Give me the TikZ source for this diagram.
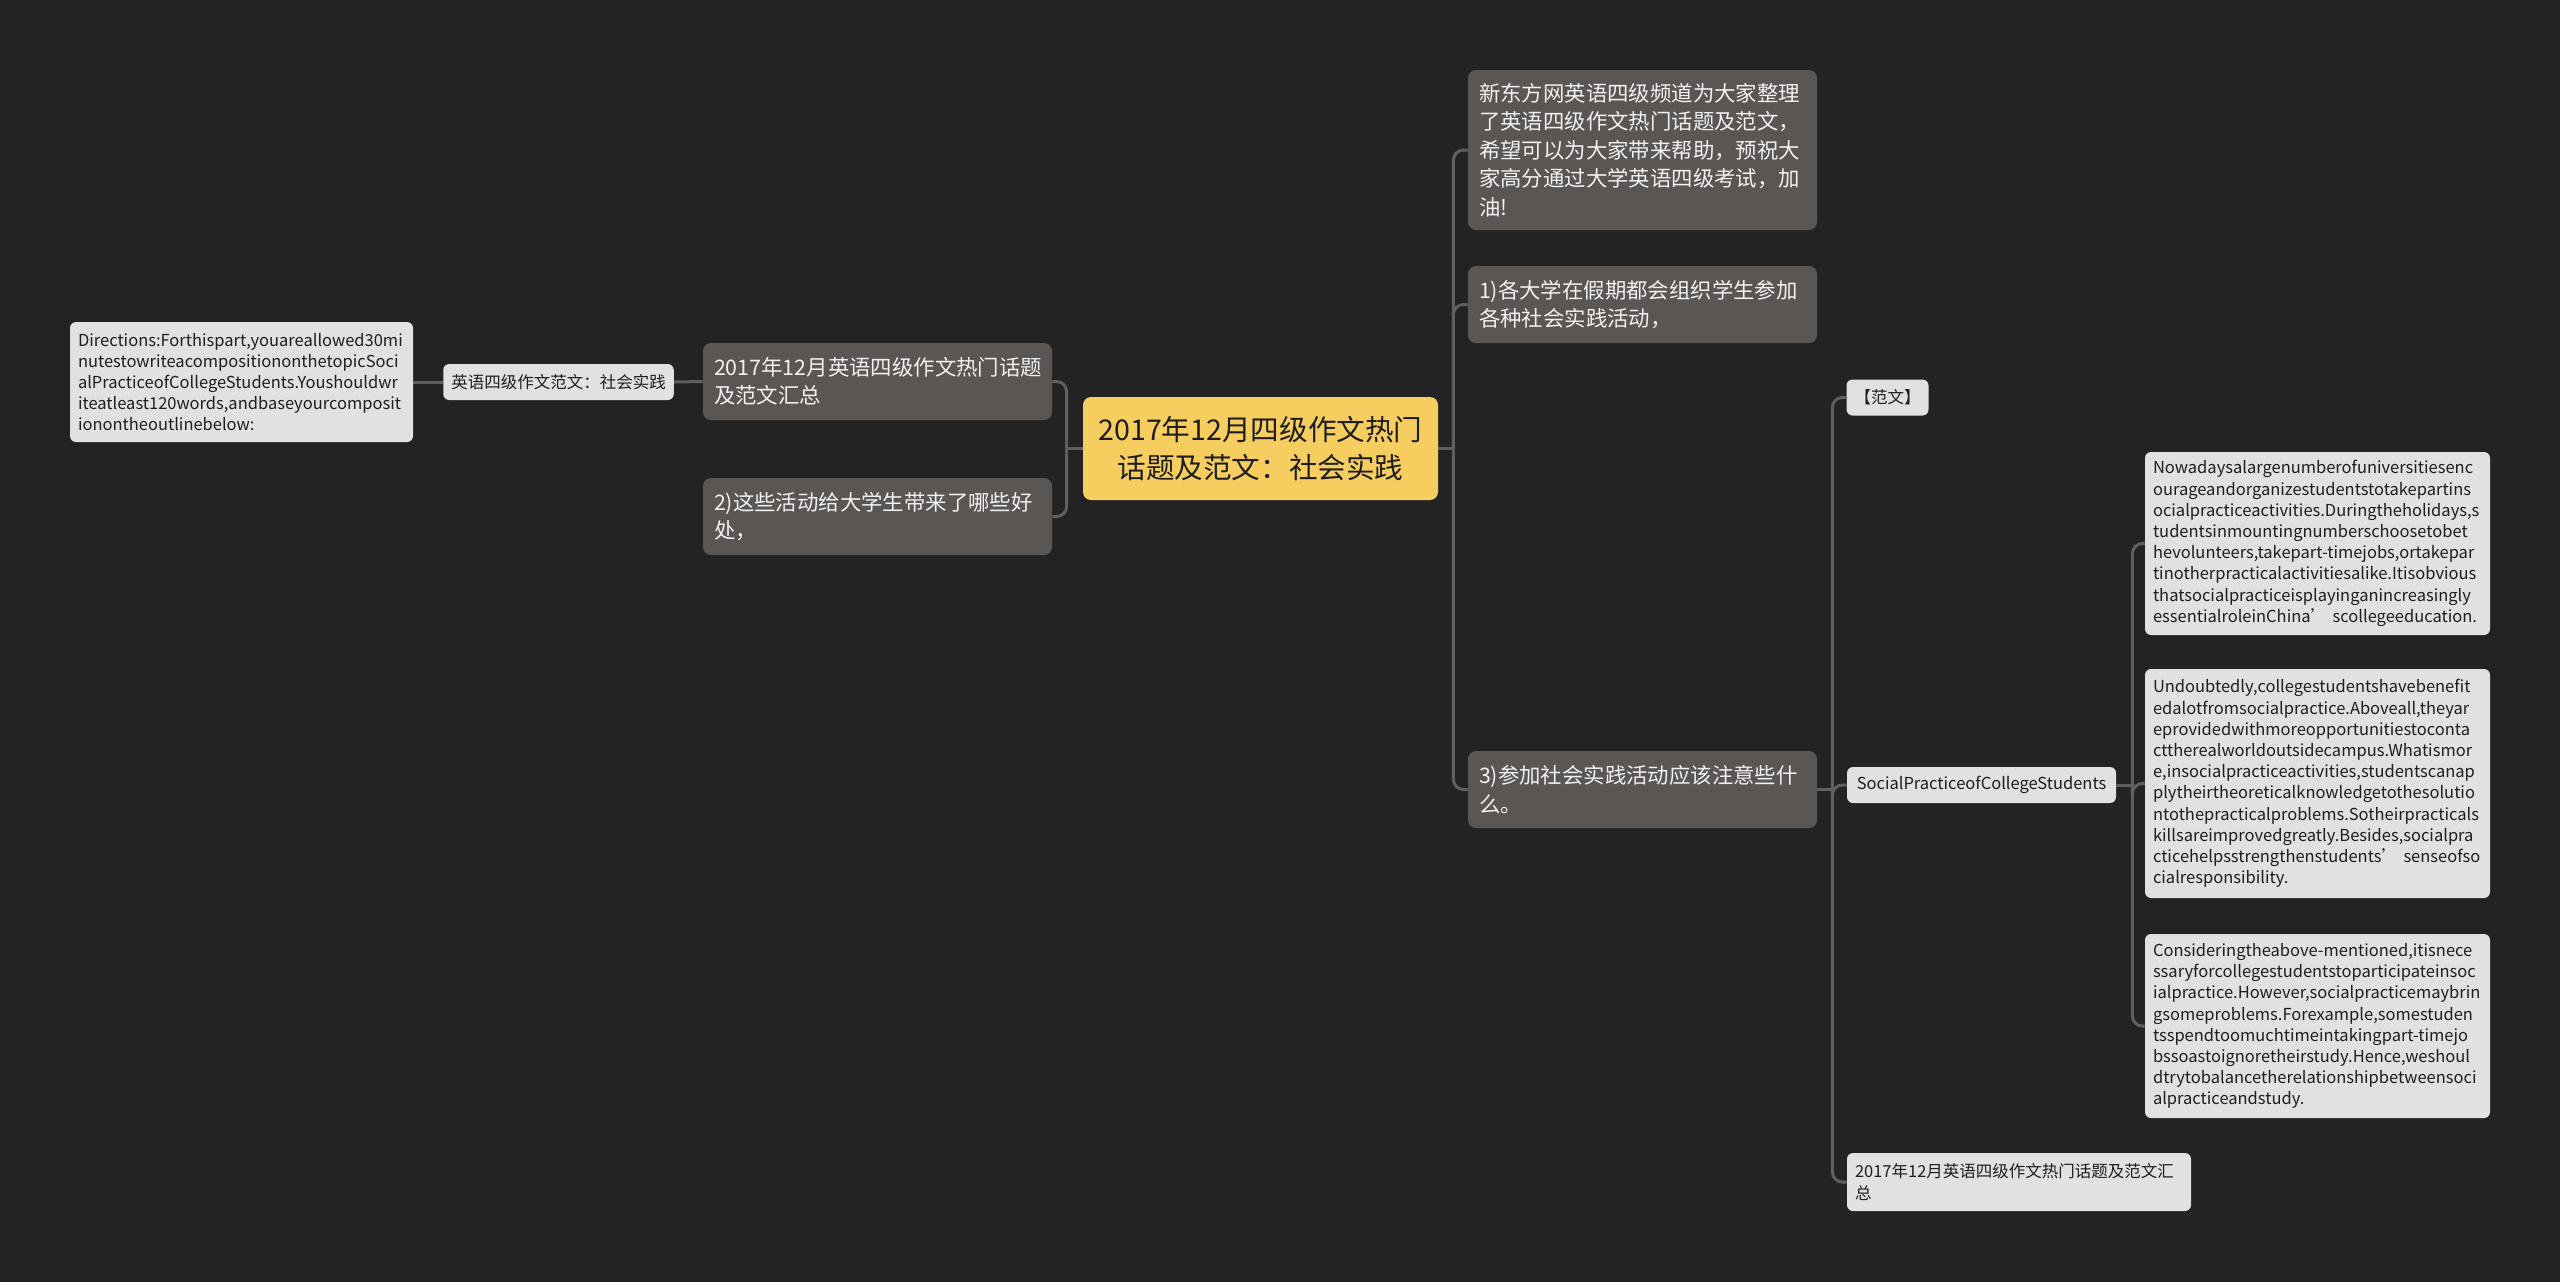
\documentclass[tikz,border=0pt]{standalone}
\usepackage{fontspec}
\setmainfont{Noto Sans CJK SC}
\usepackage{tikz}
\usetikzlibrary{positioning,calc}
\definecolor{canvas}{HTML}{232323}
\definecolor{slate}{HTML}{5A5654}
\definecolor{paper}{HTML}{E1E1E1}
\definecolor{gold}{HTML}{F6CD5F}
\definecolor{wire}{HTML}{5F5F5F}
\definecolor{ink}{HTML}{1E1E1E}
\hyphenpenalty=10000

\begin{document}
\begin{tikzpicture}[x=0.5pt,y=-0.5pt,
  link/.style={draw=wire,line width=1.5pt,rounded corners=5pt},
  root/.style={fill=gold,rounded corners=4pt,text=ink,align=center,inner sep=0pt,
    minimum width=177.5pt,minimum height=51.5pt,font=\fontsize{14.3}{18.8}\selectfont},
  topic/.style={fill=slate,rounded corners=4pt,text=white!92!slate,align=left,
    inner xsep=5.5pt,inner ysep=0pt,text width=163.5pt,minimum height=38.5pt,
    font=\fontsize{10.7}{14.2}\selectfont},
  leaf/.style={fill=paper,rounded corners=3pt,text=ink,align=left,
    inner xsep=4pt,inner ysep=0pt,font=\fontsize{8.25}{10.6}\selectfont},
  tag/.style={leaf,align=center,minimum height=18pt}]
\useasboundingbox (0,0) rectangle (2560,1281);
\fill[canvas] (-4,-4) rectangle (2564,1285);
% centre
\node[root] (root) at (1260.5,448.5) {2017年12月四级作文热门\\话题及范文：社会实践};
% left branch
\node[topic] (summary) at (877.5,381.5) {2017年12月英语四级作文热门话题\\及范文汇总};
\node[topic] (benefit) at (877.5,516.5) {2)这些活动给大学生带来了哪些好\\处，};
\node[tag,minimum width=114.5pt] (sample) at (558.5,382) {英语四级作文范文：社会实践};
\node[leaf,text width=163.5pt,minimum height=60pt] (dirs) at (241.5,382) {Directions:Forthispart,youareallowed30mi\\nutestowriteacompositiononthetopicSoci\\alPracticeofCollegeStudents.Youshouldwr\\iteatleast120words,andbaseyourcomposit\\ionontheoutlinebelow:};
% right branch
\node[topic,minimum height=80pt] (intro) at (1642.5,150) {新东方网英语四级频道为大家整理\\了英语四级作文热门话题及范文，\\希望可以为大家带来帮助，预祝大\\家高分通过大学英语四级考试，加\\油!};
\node[topic] (q1) at (1642.5,304.5) {1)各大学在假期都会组织学生参加\\各种社会实践活动，};
\node[topic] (q3) at (1642.5,789.5) {3)参加社会实践活动应该注意些什\\么。};
% sample essay
\node[tag,minimum width=40.5pt] (fanwen) at (1887.5,397.5) {【范文】};
\node[tag,minimum width=134.5pt] (title) at (1981.5,785) {SocialPracticeofCollegeStudents};
\node[leaf,text width=164pt,minimum height=29pt] (summary2) at (2019,1182) {2017年12月英语四级作文热门话题及范文汇\\总};
\node[leaf,text width=164.5pt,minimum height=91.5pt] (para1) at (2317.5,543.5) {Nowadaysalargenumberofuniversitiesenc\\ourageandorganizestudentstotakepartins\\ocialpracticeactivities.Duringtheholidays,s\\tudentsinmountingnumberschoosetobet\\hevolunteers,takepart-timejobs,ortakepar\\tinotherpracticalactivitiesalike.Itisobvious\\thatsocialpracticeisplayinganincreasingly\\essentialroleinChina’~scollegeeducation.};
\node[leaf,text width=164.5pt,minimum height=114.5pt] (para2) at (2317.5,783.5) {Undoubtedly,collegestudentshavebenefit\\edalotfromsocialpractice.Aboveall,theyar\\eprovidedwithmoreopportunitiestoconta\\cttherealworldoutsidecampus.Whatismor\\e,insocialpracticeactivities,studentscanap\\plytheirtheoreticalknowledgetothesolutio\\ntothepracticalproblems.Sotheirpracticals\\killsareimprovedgreatly.Besides,socialpra\\cticehelpsstrengthenstudents’~senseofso\\cialresponsibility.};
\node[leaf,text width=164.5pt,minimum height=92pt] (para3) at (2317.5,1026) {Consideringtheabove-mentioned,itisnece\\ssaryforcollegestudentstoparticipateinsoc\\ialpractice.However,socialpracticemaybrin\\gsomeproblems.Forexample,somestuden\\tsspendtoomuchtimeintakingpart-timejo\\bssoastoignoretheirstudy.Hence,weshoul\\dtrytobalancetherelationshipbetweensoci\\alpracticeandstudy.};
% connectors
\coordinate (rootR) at ([xshift=7.5pt]root.east);
\coordinate (rootL) at ([xshift=-8pt]root.west);
\coordinate (q3R) at ([xshift=7.5pt]q3.east);
\coordinate (titleR) at ([xshift=8pt]title.east);
\draw[link] (root.east) -- (rootR);
\draw[link] (intro.west) -| (rootR);
\draw[link] (q1.west) -| (rootR);
\draw[link] (q3.west) -| (rootR);
\draw[link] (root.west) -- (rootL);
\draw[link] (summary.east) -| (rootL);
\draw[link] (benefit.east) -| (rootL);
\draw[link] (summary.west) -- (sample.east);
\draw[link] (sample.west) -- (dirs.east);
\draw[link] (q3.east) -- (q3R);
\draw[link] (fanwen.west) -| (q3R);
\draw[link] (title.west) -| (q3R);
\draw[link] (summary2.west) -| (q3R);
\draw[link] (title.east) -- (titleR);
\draw[link] (para1.west) -| (titleR);
\draw[link] (para2.west) -| (titleR);
\draw[link] (para3.west) -| (titleR);
\end{tikzpicture}
\end{document}
